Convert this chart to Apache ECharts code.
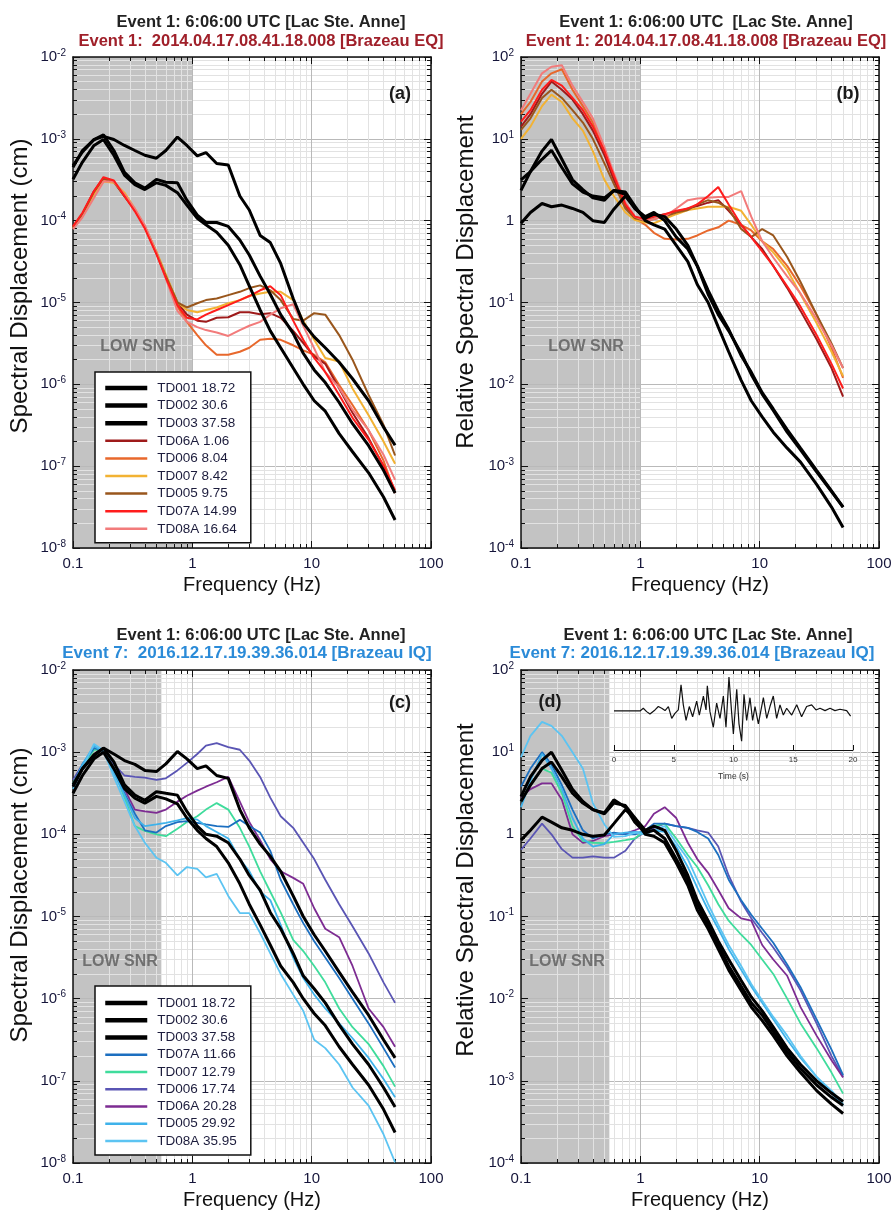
<!DOCTYPE html>
<html>
<head>
<meta charset="utf-8">
<title>Spectral displacement</title>
<script src="https://cdn.jsdelivr.net/npm/echarts@6/dist/echarts.min.js"></script>
<style>
  html, body { margin: 0; padding: 0; background: #fff; }
  #main { width: 893px; height: 1220px; }
</style>
</head>
<body>
<div id="main"></div>
<script>
// frequency samples shared by every spectrum (Hz)
const freqHz = [0.1, 0.12, 0.15, 0.18, 0.22, 0.27, 0.33, 0.4, 0.5, 0.6, 0.75, 0.9, 1.1, 1.3, 1.6, 2, 2.5, 3, 3.7, 4.5, 5.5, 7, 8.5, 10.5, 13, 17, 22, 30, 40, 50];

// (a) spectral displacement (cm), event 1 vs Brazeau EQ
const dispA_TD001 = [4.5e-4, 7.2e-4, 9.8e-4, 1.07e-3, 9.8e-4, 8.3e-4, 7.2e-4, 6.3e-4, 5.8e-4, 7.2e-4, 1.05e-3, 8.3e-4, 6.2e-4, 6.8e-4, 5.0e-4, 4.8e-4, 2.0e-4, 1.35e-4, 6.6e-5, 5.4e-5, 3.0e-5, 1.12e-5, 5.6e-6, 3.8e-6, 2.8e-6, 1.86e-6, 1.17e-6, 6.3e-7, 3.0e-7, 1.8e-7];
const dispA_TD002 = [4.7e-4, 6.9e-4, 9.8e-4, 1.12e-3, 7.2e-4, 3.9e-4, 2.9e-4, 2.5e-4, 3.2e-4, 2.95e-4, 2.9e-4, 1.78e-4, 1.17e-4, 9.5e-5, 9.5e-5, 8.5e-5, 5.8e-5, 3.8e-5, 2.1e-5, 1.26e-5, 7.1e-6, 4.2e-6, 2.4e-6, 1.5e-6, 1.05e-6, 6.0e-7, 3.3e-7, 1.78e-7, 8.9e-8, 4.7e-8];
const dispA_TD003 = [3.2e-4, 5.2e-4, 8.3e-4, 9.8e-4, 6.3e-4, 3.6e-4, 2.75e-4, 2.4e-4, 2.9e-4, 2.7e-4, 2.2e-4, 1.55e-4, 1.07e-4, 8.9e-5, 7.2e-5, 5.0e-5, 2.9e-5, 1.6e-5, 8.1e-6, 4.5e-6, 2.8e-6, 1.58e-6, 1.0e-6, 6.3e-7, 4.7e-7, 2.5e-7, 1.5e-7, 8.3e-8, 4.2e-8, 2.2e-8];
const dispA_TD06A = [8.5e-5, 1.2e-4, 2.3e-4, 3.3e-4, 3.0e-4, 2.0e-4, 1.35e-4, 8.5e-5, 4.1e-5, 2.1e-5, 1.0e-5, 7.1e-6, 6.0e-6, 5.8e-6, 6.5e-6, 6.6e-6, 7.6e-6, 7.6e-6, 7.2e-6, 7.4e-6, 6.5e-6, 4.5e-6, 3.2e-6, 2.2e-6, 1.78e-6, 8.9e-7, 4.5e-7, 2.2e-7, 1.0e-7, 4.7e-8];
const dispA_TD006 = [8.3e-5, 1.17e-4, 2.2e-4, 3.2e-4, 2.95e-4, 2.0e-4, 1.35e-4, 8.3e-5, 4.0e-5, 2.05e-5, 9.0e-6, 5.8e-6, 4.0e-6, 3.0e-6, 2.3e-6, 2.3e-6, 2.5e-6, 2.8e-6, 3.5e-6, 3.6e-6, 3.5e-6, 3.0e-6, 2.6e-6, 2.3e-6, 1.86e-6, 9.8e-7, 5.6e-7, 2.75e-7, 1.17e-7, 4.7e-8];
const dispA_TD007 = [8.0e-5, 1.15e-4, 2.1e-4, 3.0e-4, 2.9e-4, 2.2e-4, 1.4e-4, 8.5e-5, 4.2e-5, 2.2e-5, 1.0e-5, 8.1e-6, 7.6e-6, 8.1e-6, 8.7e-6, 9.8e-6, 1.07e-5, 1.2e-5, 1.29e-5, 1.35e-5, 1.35e-5, 1.07e-5, 6.0e-6, 3.5e-6, 2.1e-6, 1.9e-6, 8.9e-7, 4.2e-7, 2.0e-7, 1.07e-7];
const dispA_TD005 = [8.3e-5, 1.2e-4, 2.25e-4, 3.3e-4, 3.0e-4, 2.0e-4, 1.35e-4, 8.3e-5, 4.0e-5, 2.1e-5, 1.0e-5, 8.7e-6, 9.8e-6, 1.07e-5, 1.12e-5, 1.23e-5, 1.35e-5, 1.5e-5, 1.62e-5, 1.41e-5, 1.07e-5, 6.3e-6, 6.0e-6, 7.4e-6, 7.1e-6, 4.0e-6, 2.0e-6, 7.4e-7, 3.2e-7, 1.35e-7];
const dispA_TD07A = [8.5e-5, 1.25e-4, 2.3e-4, 3.4e-4, 3.1e-4, 2.0e-4, 1.3e-4, 8.0e-5, 3.9e-5, 2.0e-5, 9.3e-6, 6.5e-6, 6.2e-6, 7.1e-6, 8.1e-6, 9.3e-6, 1.07e-5, 1.2e-5, 1.41e-5, 1.58e-5, 1.23e-5, 6.0e-6, 3.5e-6, 2.1e-6, 1.41e-6, 7.4e-7, 3.9e-7, 2.1e-7, 1.02e-7, 5.1e-8];
const dispA_TD08A = [7.9e-5, 1.1e-4, 1.9e-4, 3.0e-4, 3.0e-4, 2.1e-4, 1.4e-4, 8.7e-5, 4.1e-5, 1.95e-5, 7.9e-6, 5.8e-6, 5.0e-6, 4.6e-6, 4.3e-6, 3.9e-6, 4.6e-6, 5.2e-6, 5.8e-6, 7.1e-6, 8.5e-6, 9.5e-6, 5.2e-6, 2.75e-6, 1.41e-6, 9.1e-7, 4.9e-7, 2.75e-7, 1.38e-7, 6.8e-8];

// (b) relative spectral displacement, event 1 vs Brazeau EQ
const relB_TD001 = [0.93, 1.26, 1.62, 1.48, 1.55, 1.41, 1.26, 1.0, 0.95, 1.38, 2.0, 1.41, 1.07, 1.2, 1.12, 0.79, 0.5, 0.28, 0.141, 0.079, 0.047, 0.0224, 0.0141, 0.0079, 0.005, 0.0028, 0.00166, 0.00089, 0.0005, 0.000316];
const relB_TD002 = [2.34, 3.98, 7.08, 9.8, 5.62, 3.16, 2.4, 1.9, 1.78, 2.34, 2.1, 1.41, 1.12, 1.26, 1.0, 0.63, 0.45, 0.28, 0.126, 0.071, 0.045, 0.024, 0.0132, 0.0076, 0.0048, 0.0026, 0.00158, 0.00085, 0.00049, 0.000316];
const relB_TD003 = [3.16, 3.98, 5.62, 7.24, 4.47, 2.82, 2.24, 2.0, 1.9, 2.34, 2.24, 1.51, 1.0, 0.89, 0.79, 0.5, 0.316, 0.166, 0.1, 0.05, 0.025, 0.0112, 0.0063, 0.004, 0.0026, 0.00166, 0.00112, 0.0006, 0.000316, 0.000178];
const relB_TD06A = [14.1, 20.0, 35.5, 50.1, 39.8, 30.2, 20.0, 12.6, 6.31, 3.16, 1.51, 1.1, 1.05, 1.12, 1.2, 1.26, 1.41, 1.51, 1.66, 1.78, 1.32, 0.89, 0.63, 0.45, 0.28, 0.151, 0.079, 0.0355, 0.0158, 0.0071];
const relB_TD006 = [20.0, 28.2, 50.1, 63.1, 70.8, 39.8, 25.1, 15.8, 7.08, 3.55, 1.58, 1.07, 0.89, 0.71, 0.6, 0.59, 0.6, 0.66, 0.76, 0.83, 1.0, 0.89, 0.76, 0.56, 0.45, 0.28, 0.158, 0.071, 0.028, 0.012];
const relB_TD007 = [10.0, 14.1, 25.1, 34.7, 28.2, 17.8, 12.6, 7.08, 3.16, 2.0, 1.26, 1.02, 0.95, 0.93, 1.05, 1.2, 1.35, 1.41, 1.48, 1.48, 1.48, 1.32, 0.89, 0.56, 0.41, 0.25, 0.126, 0.056, 0.025, 0.0126];
const relB_TD005 = [12.9, 17.8, 31.6, 39.8, 31.6, 22.4, 15.8, 10.0, 5.01, 2.82, 1.41, 1.07, 1.0, 1.05, 1.12, 1.26, 1.35, 1.58, 1.78, 1.66, 1.41, 0.79, 0.63, 0.79, 0.66, 0.36, 0.178, 0.071, 0.0316, 0.0158];
const relB_TD07A = [16.2, 22.4, 39.8, 52.5, 44.7, 31.6, 22.4, 14.1, 7.08, 3.55, 1.58, 1.12, 1.05, 1.12, 1.2, 1.32, 1.41, 1.58, 2.0, 2.57, 1.58, 0.89, 0.63, 0.42, 0.28, 0.158, 0.089, 0.04, 0.0178, 0.0089];
const relB_TD08A = [22.4, 35.5, 63.1, 75.9, 79.4, 44.7, 28.2, 17.8, 7.94, 3.8, 1.66, 1.12, 1.0, 1.05, 1.12, 1.41, 1.78, 1.86, 1.9, 1.95, 1.95, 2.3, 1.12, 0.56, 0.355, 0.209, 0.129, 0.063, 0.03, 0.0158];

// (c) spectral displacement (cm), event 1 vs Brazeau IQ
const dispC_TD001 = [3.8e-4, 6.3e-4, 9.1e-4, 1.12e-3, 9.5e-4, 7.9e-4, 7.1e-4, 6.0e-4, 5.8e-4, 7.2e-4, 1.02e-3, 8.3e-4, 6.3e-4, 6.8e-4, 5.2e-4, 4.8e-4, 2.0e-4, 1.2e-4, 7.6e-5, 5.4e-5, 3.55e-5, 1.78e-5, 1.0e-5, 6.0e-6, 3.8e-6, 2.1e-6, 1.2e-6, 6.3e-7, 3.16e-7, 1.9e-7];
const dispC_TD002 = [4.0e-4, 6.3e-4, 9.3e-4, 1.12e-3, 7.6e-4, 4.0e-4, 3.0e-4, 2.6e-4, 3.3e-4, 3.16e-4, 3.0e-4, 1.9e-4, 1.26e-4, 1.0e-4, 9.5e-5, 7.9e-5, 5.0e-5, 3.16e-5, 2.1e-5, 1.12e-5, 7.1e-6, 3.55e-6, 1.9e-6, 1.32e-6, 8.9e-7, 4.8e-7, 2.8e-7, 1.58e-7, 8.3e-8, 4.8e-8];
const dispC_TD003 = [3.16e-4, 5.2e-4, 8.3e-4, 1.0e-3, 6.3e-4, 3.6e-4, 2.75e-4, 2.4e-4, 2.9e-4, 2.7e-4, 2.35e-4, 1.58e-4, 1.12e-4, 8.9e-5, 7.1e-5, 4.5e-5, 2.5e-5, 1.41e-5, 7.9e-6, 4.5e-6, 2.5e-6, 1.58e-6, 1.0e-6, 6.6e-7, 4.7e-7, 2.6e-7, 1.58e-7, 8.9e-8, 4.5e-8, 2.35e-8];
const dispC_TD07A = [4.0e-4, 7.1e-4, 1.12e-3, 1.05e-3, 6.3e-4, 3.16e-4, 1.78e-4, 1.12e-4, 1.05e-4, 1.26e-4, 1.41e-4, 1.45e-4, 1.38e-4, 1.32e-4, 1.26e-4, 1.23e-4, 1.5e-4, 1.26e-4, 1.05e-4, 6.3e-5, 2.8e-5, 1.41e-5, 8.3e-6, 5.0e-6, 3.16e-6, 1.78e-6, 1.0e-6, 5.0e-7, 2.5e-7, 1.45e-7];
const dispC_TD007 = [4.2e-4, 6.6e-4, 1.07e-3, 1.07e-3, 6.3e-4, 2.8e-4, 1.26e-4, 1.1e-4, 1.0e-4, 9.5e-5, 1.17e-4, 1.41e-4, 1.66e-4, 2.0e-4, 2.4e-4, 2.0e-4, 1.2e-4, 7.1e-5, 3.55e-5, 2.0e-5, 1.12e-5, 5.2e-6, 3.8e-6, 2.5e-6, 1.58e-6, 7.6e-7, 4.5e-7, 2.8e-7, 1.51e-7, 8.5e-8];
const dispC_TD006 = [4.6e-4, 7.1e-4, 1.1e-3, 1.07e-3, 7.1e-4, 5.2e-4, 5.0e-4, 4.9e-4, 4.6e-4, 4.8e-4, 6.0e-4, 7.4e-4, 9.5e-4, 1.2e-3, 1.29e-3, 1.15e-3, 1.07e-3, 7.9e-4, 5.0e-4, 2.8e-4, 1.66e-4, 1.2e-4, 7.9e-5, 5.0e-5, 2.8e-5, 1.41e-5, 7.6e-6, 3.55e-6, 1.58e-6, 8.9e-7];
const dispC_TD06A = [4.0e-4, 6.6e-4, 1.1e-3, 1.05e-3, 5.6e-4, 3.55e-4, 2.0e-4, 1.9e-4, 1.82e-4, 2.0e-4, 2.5e-4, 2.95e-4, 3.4e-4, 3.8e-4, 4.3e-4, 5.0e-4, 2.5e-4, 1.41e-4, 8.5e-5, 5.0e-5, 3.55e-5, 2.95e-5, 2.5e-5, 1.26e-5, 7.1e-6, 5.6e-6, 2.5e-6, 7.6e-7, 4.5e-7, 2.6e-7];
const dispC_TD005 = [3.8e-4, 7.1e-4, 1.2e-3, 1.0e-3, 5.6e-4, 3.0e-4, 1.58e-4, 1.26e-4, 1.32e-4, 1.38e-4, 1.48e-4, 1.58e-4, 1.51e-4, 1.26e-4, 1.07e-4, 8.9e-5, 5.0e-5, 3.55e-5, 2.0e-5, 1.58e-5, 7.9e-6, 3.16e-6, 1.78e-6, 1.12e-6, 7.6e-7, 5.0e-7, 3.3e-7, 1.9e-7, 1.05e-7, 6.3e-8];
const dispC_TD08A = [3.55e-4, 6.3e-4, 1.26e-3, 1.05e-3, 5.0e-4, 2.5e-4, 1.26e-4, 7.9e-5, 5.2e-5, 4.5e-5, 3.16e-5, 4.0e-5, 3.8e-5, 3.0e-5, 3.3e-5, 1.78e-5, 1.1e-5, 1.1e-5, 6.3e-6, 3.55e-6, 2.0e-6, 1.12e-6, 7.1e-7, 3.16e-7, 2.5e-7, 1.58e-7, 8.3e-8, 5.0e-8, 2.24e-8, 1.02e-8];

// (d) relative spectral displacement, event 1 vs Brazeau IQ
const relD_TD001 = [0.85, 1.12, 1.62, 1.41, 1.2, 1.12, 1.0, 0.95, 0.98, 1.35, 2.0, 1.58, 1.12, 1.26, 1.12, 0.63, 0.316, 0.158, 0.089, 0.05, 0.03, 0.0166, 0.0105, 0.0071, 0.0045, 0.0025, 0.00158, 0.001, 0.00071, 0.00056];
const relD_TD002 = [2.88, 5.01, 7.94, 10.0, 6.03, 3.55, 2.51, 2.0, 1.82, 2.63, 2.14, 1.41, 1.05, 1.12, 0.89, 0.5, 0.28, 0.141, 0.079, 0.045, 0.025, 0.0141, 0.0089, 0.0063, 0.004, 0.00224, 0.00141, 0.00089, 0.00063, 0.0005];
const relD_TD003 = [2.51, 3.98, 6.31, 7.59, 5.01, 3.16, 2.4, 2.0, 1.78, 2.4, 2.24, 1.58, 1.0, 0.95, 0.79, 0.45, 0.24, 0.12, 0.071, 0.04, 0.0224, 0.0126, 0.0079, 0.0054, 0.00355, 0.002, 0.00126, 0.00076, 0.00052, 0.0004];
const relD_TD07A = [3.8, 6.31, 10.0, 7.08, 3.98, 2.0, 1.12, 0.89, 1.0, 1.05, 1.0, 1.0, 1.12, 1.35, 1.35, 1.26, 1.2, 1.07, 0.89, 0.56, 0.28, 0.158, 0.105, 0.071, 0.048, 0.026, 0.0138, 0.0056, 0.0024, 0.00117];
const relD_TD007 = [2.51, 3.98, 6.31, 5.62, 3.16, 1.26, 0.83, 0.79, 0.78, 0.81, 0.85, 0.89, 1.12, 1.26, 1.35, 0.89, 0.56, 0.4, 0.24, 0.141, 0.089, 0.06, 0.045, 0.03, 0.02, 0.01, 0.005, 0.0025, 0.00126, 0.0007];
const relD_TD006 = [0.65, 0.89, 1.35, 1.0, 0.66, 0.52, 0.52, 0.54, 0.52, 0.52, 0.63, 0.89, 1.07, 1.2, 1.35, 1.26, 1.2, 1.12, 1.05, 0.71, 0.316, 0.151, 0.095, 0.063, 0.042, 0.024, 0.0126, 0.005, 0.002, 0.00112];
const relD_TD06A = [2.82, 3.55, 4.17, 4.17, 2.63, 1.0, 0.79, 0.83, 0.95, 1.0, 1.02, 1.12, 1.26, 1.78, 2.14, 1.58, 0.79, 0.5, 0.34, 0.21, 0.126, 0.095, 0.089, 0.045, 0.03, 0.019, 0.0079, 0.00355, 0.00178, 0.0011];
const relD_TD005 = [2.14, 4.47, 9.55, 6.31, 3.55, 1.58, 0.89, 0.71, 0.76, 1.0, 1.05, 1.07, 1.05, 1.12, 1.07, 0.71, 0.4, 0.224, 0.12, 0.071, 0.04, 0.0224, 0.0141, 0.0089, 0.0056, 0.00316, 0.0019, 0.00112, 0.00071, 0.0005];
const relD_TD08A = [8.71, 15.8, 23.4, 20.9, 15.8, 10.0, 6.31, 2.4, 1.32, 0.93, 0.95, 1.05, 1.0, 1.12, 1.26, 0.79, 0.5, 0.28, 0.141, 0.079, 0.045, 0.025, 0.0151, 0.0095, 0.006, 0.00355, 0.002, 0.00112, 0.00076, 0.00052];

// inset seismogram in (d): time (s) and normalised amplitude
const waveTime = [0, 2.18, 2.45, 2.73, 3.01, 3.43, 3.71, 3.99, 4.27, 4.55, 4.83, 5.10, 5.38, 5.61, 5.80, 6.03, 6.30, 6.58, 6.92, 7.14, 7.48, 7.70, 7.81, 8.03, 8.31, 8.59, 8.87, 9.15, 9.37, 9.62, 9.85, 9.99, 10.27, 10.46, 10.68, 10.88, 11.10, 11.38, 11.60, 11.80, 12.08, 12.50, 12.78, 13.05, 13.33, 13.61, 13.89, 14.17, 14.45, 14.87, 15.29, 15.70, 16.12, 16.54, 16.90, 17.24, 17.66, 18.08, 18.49, 18.91, 19.47, 19.80];
const waveAmp = [0, 0, 0.08, -0.02, -0.09, 0.03, 0.13, 0.08, 0.01, 0.13, -0.22, -0.07, 0.03, 0.77, 0.18, -0.28, 0.13, -0.17, 0.29, -0.12, 0.44, 0.03, 0.74, -0.02, -0.48, 0.23, -0.22, 0.44, -0.48, 1.0, -0.07, -0.68, 0.64, -0.38, -0.89, 0.49, -0.28, 0.39, -0.28, 0.13, -0.38, 0.39, -0.22, 0.13, 0.44, -0.22, 0.18, -0.12, 0.08, -0.12, 0.18, -0.17, 0.13, 0.18, 0.03, 0.08, 0.01, 0.08, 0.01, 0.05, 0.01, -0.15];

// legend entries
const legendA = ['TD001 18.72', 'TD002 30.6', 'TD003 37.58', 'TD06A 1.06', 'TD006 8.04', 'TD007 8.42', 'TD005 9.75', 'TD07A 14.99', 'TD08A 16.64'];
const legendC = ['TD001 18.72', 'TD002 30.6', 'TD003 37.58', 'TD07A 11.66', 'TD007 12.79', 'TD006 17.74', 'TD06A 20.28', 'TD005 29.92', 'TD08A 35.95'];
const blackStations = ['TD001 18.72', 'TD002 30.6', 'TD003 37.58'];

// tick values
const xMajorTicks = [0.1, 1, 10, 100];
const xMinorTicks = [0.2, 0.3, 0.4, 0.5, 0.6, 0.7, 0.8, 0.9, 2, 3, 4, 5, 6, 7, 8, 9, 20, 30, 40, 50, 60, 70, 80, 90];
const yMajorDisp = [1e-8, 1e-7, 1e-6, 1e-5, 1e-4, 1e-3, 1e-2];
const yMajorRel = [1e-4, 1e-3, 1e-2, 1e-1, 1, 10, 100];

const FONT = '"Liberation Sans", Arial, Helvetica, sans-serif';
const INK = '#15153a';
const MAJOR_GRID = '#b9b9b9';
const MINOR_GRID = '#e2e2e2';
const C = {
  black: '#000000', darkRed: '#9e1a1a', orange: '#e8682c', gold: '#f2b233', brown: '#99561c',
  red: '#ff1c1c', pink: '#f27b7b', blue: '#1c6fc0', green: '#3fdc9c', indigo: '#5a55b4',
  purple: '#7d2c92', sky: '#3fb2ea', sky2: '#5cc4f2'
};

function minorTicks(lo, hi) {
  const out = [];
  for (let e = lo; e < hi; e++) {
    for (let m = 2; m <= 9; m++) out.push(Number((m * Math.pow(10, e)).toPrecision(2)));
  }
  return out;
}

function powLabel(v) {
  const e = Math.round(Math.log10(v));
  return e === 0 ? '{b|1}' : '{b|10}{s|' + e + '}';
}

const linesA = [
  ['TD006 8.04', C.orange, dispA_TD006, 2], ['TD06A 1.06', C.darkRed, dispA_TD06A, 2],
  ['TD007 8.42', C.gold, dispA_TD007, 2], ['TD005 9.75', C.brown, dispA_TD005, 2],
  ['TD08A 16.64', C.pink, dispA_TD08A, 2], ['TD07A 14.99', C.red, dispA_TD07A, 2],
  ['TD001 18.72', C.black, dispA_TD001, 3], ['TD002 30.6', C.black, dispA_TD002, 3], ['TD003 37.58', C.black, dispA_TD003, 3]
];
const linesB = [
  ['TD006 8.04', C.orange, relB_TD006, 2], ['TD06A 1.06', C.darkRed, relB_TD06A, 2],
  ['TD007 8.42', C.gold, relB_TD007, 2], ['TD005 9.75', C.brown, relB_TD005, 2],
  ['TD08A 16.64', C.pink, relB_TD08A, 2], ['TD07A 14.99', C.red, relB_TD07A, 2],
  ['TD001 18.72', C.black, relB_TD001, 3], ['TD002 30.6', C.black, relB_TD002, 3], ['TD003 37.58', C.black, relB_TD003, 3]
];
const linesC = [
  ['TD006 17.74', C.indigo, dispC_TD006, 1.8], ['TD06A 20.28', C.purple, dispC_TD06A, 1.8],
  ['TD007 12.79', C.green, dispC_TD007, 1.8], ['TD07A 11.66', C.blue, dispC_TD07A, 1.8],
  ['TD005 29.92', C.sky, dispC_TD005, 1.8], ['TD08A 35.95', C.sky2, dispC_TD08A, 1.8],
  ['TD001 18.72', C.black, dispC_TD001, 3], ['TD002 30.6', C.black, dispC_TD002, 3], ['TD003 37.58', C.black, dispC_TD003, 3]
];
const linesD = [
  ['TD006 17.74', C.indigo, relD_TD006, 1.8], ['TD06A 20.28', C.purple, relD_TD06A, 1.8],
  ['TD007 12.79', C.green, relD_TD007, 1.8], ['TD07A 11.66', C.blue, relD_TD07A, 1.8],
  ['TD005 29.92', C.sky, relD_TD005, 1.8], ['TD08A 35.95', C.sky2, relD_TD08A, 1.8],
  ['TD001 18.72', C.black, relD_TD001, 3], ['TD002 30.6', C.black, relD_TD002, 3], ['TD003 37.58', C.black, relD_TD003, 3]
];

const panels = [
  { box: { left: 73, top: 57, width: 358, height: 491 }, yMin: 1e-8, yMax: 1e-2, yMajor: yMajorDisp, yMinor: minorTicks(-8, -2), snrEdge: 1, lines: linesA },
  { box: { left: 521, top: 57, width: 358, height: 491 }, yMin: 1e-4, yMax: 1e2, yMajor: yMajorRel, yMinor: minorTicks(-4, 2), snrEdge: 1, lines: linesB },
  { box: { left: 73, top: 670, width: 358, height: 493 }, yMin: 1e-8, yMax: 1e-2, yMajor: yMajorDisp, yMinor: minorTicks(-8, -2), snrEdge: 0.55, lines: linesC },
  { box: { left: 521, top: 670, width: 358, height: 493 }, yMin: 1e-4, yMax: 1e2, yMajor: yMajorRel, yMinor: minorTicks(-4, 2), snrEdge: 0.55, lines: linesD }
];

const frame = { color: '#111', width: 1.5 };
const grids = [], xAxes = [], yAxes = [], series = [];

panels.forEach((p, g) => {
  grids.push(Object.assign({ outerBoundsMode: 'none' }, p.box));
  const xb = { type: 'log', logBase: 10, min: 0.1, max: 100, gridIndex: g, z: 2 };
  xAxes.push(
    Object.assign({}, xb, { position: 'bottom', axisLine: { show: false }, axisTick: { show: true, inside: true, length: 4, customValues: xMinorTicks, lineStyle: { color: '#111' } }, axisLabel: { show: false }, splitLine: { show: true, lineStyle: { color: MINOR_GRID, width: 1 } } }),
    Object.assign({}, xb, { position: 'bottom', name: 'Frequency (Hz)', nameLocation: 'middle', nameGap: 27, nameTextStyle: { fontSize: 20, color: '#111', fontFamily: FONT },
      axisLine: { show: true, onZero: false, lineStyle: frame }, axisTick: { show: true, inside: true, length: 7, customValues: xMajorTicks, lineStyle: { color: '#111' } },
      axisLabel: { customValues: xMajorTicks, formatter: v => String(v), fontSize: 15, color: INK, fontFamily: FONT, margin: 8 },
      splitLine: { show: true, lineStyle: { color: MAJOR_GRID, width: 1 } } }),
    Object.assign({}, xb, { position: 'top', axisLine: { show: false }, axisTick: { show: true, inside: true, length: 4, customValues: xMinorTicks, lineStyle: { color: '#111' } }, axisLabel: { show: false }, splitLine: { show: false } }),
    Object.assign({}, xb, { position: 'top', axisLine: { show: true, onZero: false, lineStyle: frame }, axisTick: { show: true, inside: true, length: 7, customValues: xMajorTicks, lineStyle: { color: '#111' } }, axisLabel: { show: false }, splitLine: { show: false } })
  );
  const yb = { type: 'log', logBase: 10, min: p.yMin, max: p.yMax, gridIndex: g, z: 2 };
  yAxes.push(
    Object.assign({}, yb, { position: 'left', axisLine: { show: false }, axisTick: { show: true, inside: true, length: 4, customValues: p.yMinor, lineStyle: { color: '#111' } }, axisLabel: { show: false }, splitLine: { show: true, lineStyle: { color: MINOR_GRID, width: 1 } } }),
    Object.assign({}, yb, { position: 'left',
      axisLine: { show: true, onZero: false, lineStyle: frame }, axisTick: { show: true, inside: true, length: 7, customValues: p.yMajor, lineStyle: { color: '#111' } },
      axisLabel: { customValues: p.yMajor, formatter: powLabel, margin: 7,
        rich: { b: { fontSize: 15, color: INK, fontFamily: FONT, lineHeight: 18 }, s: { fontSize: 10, color: INK, fontFamily: FONT, verticalAlign: 'top', lineHeight: 11 } } },
      splitLine: { show: true, lineStyle: { color: MAJOR_GRID, width: 1 } } }),
    Object.assign({}, yb, { position: 'right', axisLine: { show: false }, axisTick: { show: true, inside: true, length: 4, customValues: p.yMinor, lineStyle: { color: '#111' } }, axisLabel: { show: false }, splitLine: { show: false } }),
    Object.assign({}, yb, { position: 'right', axisLine: { show: true, onZero: false, lineStyle: frame }, axisTick: { show: true, inside: true, length: 7, customValues: p.yMajor, lineStyle: { color: '#111' } }, axisLabel: { show: false }, splitLine: { show: false } })
  );
  p.lines.forEach((ln, k) => {
    const s = {
      type: 'line', name: ln[0], xAxisIndex: 4 * g + 1, yAxisIndex: 4 * g + 1,
      data: freqHz.map((f, i) => [f, ln[2][i]]),
      symbol: 'none', color: ln[1], lineStyle: { color: ln[1], width: ln[3] }, z: 3, silent: true
    };
    if (k === 0) {
      s.markArea = { silent: true, z: 1, label: { show: false }, itemStyle: { color: '#c3c3c3' },
        data: [[{ xAxis: 0.1, yAxis: p.yMin }, { xAxis: p.snrEdge, yAxis: p.yMax }]] };
    }
    series.push(s);
  });
});

// inset seismogram
grids.push({ left: 614, top: 677, width: 239, height: 73, outerBoundsMode: 'none' });
xAxes.push({ type: 'value', gridIndex: 4, min: 0, max: 20, interval: 5, z: 2,
  axisLine: { show: true, onZero: false, lineStyle: { color: '#111', width: 1 } },
  axisTick: { show: true, inside: true, length: 5, lineStyle: { color: '#111' } },
  axisLabel: { fontSize: 8, color: '#333', fontFamily: FONT, margin: 6 }, splitLine: { show: false },
  name: 'Time (s)', nameLocation: 'middle', nameGap: 22, nameTextStyle: { fontSize: 8.5, color: '#333', fontFamily: FONT } });
yAxes.push({ type: 'value', gridIndex: 4, min: -1.15, max: 1, show: false });
series.push({ type: 'line', name: 'waveform', xAxisIndex: 16, yAxisIndex: 16, data: waveTime.map((t, i) => [t, waveAmp[i]]),
  symbol: 'none', lineStyle: { color: '#111', width: 1.2 }, z: 3, silent: true });

function legendBox(names, top, gap, padTop) {
  return {
    data: names.map(n => ({ name: n, lineStyle: { width: blackStations.indexOf(n) >= 0 ? 4.5 : 2.5 } })),
    orient: 'vertical', left: 95, top: top, itemWidth: 42, itemHeight: 12, itemGap: gap,
    padding: [padTop, 14, 7, 8], borderColor: '#111', borderWidth: 1.5, backgroundColor: '#fff',
    itemStyle: { opacity: 0 }, selectedMode: false, z: 6,
    textStyle: { fontSize: 13.5, color: '#1c1c3c', fontFamily: FONT, padding: [0, 0, 0, 5] }
  };
}

function txt(x, y, text, font, fill, rot) {
  return { type: 'text', x: x, y: y, z: 10, silent: true, rotation: rot || 0,
    style: { text: text, font: font, fill: fill, align: 'center', verticalAlign: 'middle', textAlign: 'center', textVerticalAlign: 'middle' } };
}
const TITLE_FONT = 'bold 16.5px ' + FONT;
const IQ_FONT = 'bold 17px ' + FONT;
const NOTE_FONT = 'bold 16px ' + FONT;
const TAG_FONT = 'bold 18px ' + FONT;
const YNAME_FONT = '24px ' + FONT;
const EQ_RED = '#a0202a';
const IQ_BLUE = '#2b8bd8';
const UP = Math.PI / 2;

const option = {
  animation: false,
  backgroundColor: '#fff',
  textStyle: { fontFamily: FONT },
  grid: grids,
  xAxis: xAxes,
  yAxis: yAxes,
  legend: [legendBox(legendA, 372, 3.6, 9), legendBox(legendC, 986, 3.25, 10)],
  series: series,
  graphic: [
    txt(261, 22, 'Event 1: 6:06:00 UTC [Lac Ste. Anne]', TITLE_FONT, '#222'),
    txt(261, 41, 'Event 1:  2014.04.17.08.41.18.008 [Brazeau EQ]', TITLE_FONT, EQ_RED),
    txt(706, 22, 'Event 1: 6:06:00 UTC  [Lac Ste. Anne]', TITLE_FONT, '#222'),
    txt(706, 41, 'Event 1: 2014.04.17.08.41.18.008 [Brazeau EQ]', TITLE_FONT, EQ_RED),
    txt(261, 635, 'Event 1: 6:06:00 UTC [Lac Ste. Anne]', TITLE_FONT, '#222'),
    txt(247, 653, 'Event 7:  2016.12.17.19.39.36.014 [Brazeau IQ]', IQ_FONT, IQ_BLUE),
    txt(708, 635, 'Event 1: 6:06:00 UTC [Lac Ste. Anne]', TITLE_FONT, '#222'),
    txt(692, 653, 'Event 7: 2016.12.17.19.39.36.014 [Brazeau IQ]', IQ_FONT, IQ_BLUE),
    txt(20, 286, 'Spectral Displacement (cm)', YNAME_FONT, '#111', UP),
    txt(466, 282, 'Relative Spectral Displacement', YNAME_FONT, '#111', UP),
    txt(20, 895, 'Spectral Displacement (cm)', YNAME_FONT, '#111', UP),
    txt(466, 890, 'Relative Spectral Displacement', YNAME_FONT, '#111', UP),
    txt(138, 347, 'LOW SNR', NOTE_FONT, '#707070'),
    txt(586, 347, 'LOW SNR', NOTE_FONT, '#707070'),
    txt(120, 962, 'LOW SNR', NOTE_FONT, '#707070'),
    txt(567, 962, 'LOW SNR', NOTE_FONT, '#707070'),
    txt(400, 94, '(a)', TAG_FONT, '#1a1a1a'),
    txt(848, 94, '(b)', TAG_FONT, '#1a1a1a'),
    txt(400, 703, '(c)', TAG_FONT, '#1a1a1a'),
    txt(550, 702, '(d)', TAG_FONT, '#1a1a1a')
  ]
};

const chart = echarts.init(document.getElementById('main'));
chart.setOption(option);
</script>
</body>
</html>
